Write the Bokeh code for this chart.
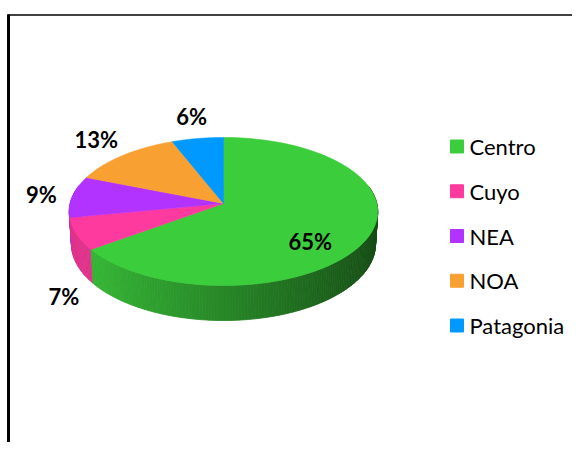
import numpy as np
from bokeh.plotting import figure
from bokeh.models import Range1d
from bokeh.core.properties import value
from bokeh.embed import file_html
from bokeh.resources import INLINE

# ---- data ----
regions = ["Centro", "Cuyo", "NEA", "NOA", "Patagonia"]
shares = [65, 7, 9, 13, 6]
colors = ["#3ccd3c", "#ff3a9e", "#b233ff", "#f9a033", "#0099ff"]
labels = [f"{s}%" for s in shares]

# ---- 3D pie projection (picture pixel coordinates) ----
CX, CY = 223.0, 203.0
ELEV = np.radians(28.5)
SE, CE = np.sin(ELEV), np.cos(ELEV)
DIST = 8.13
FOC = 1246.6
DEPTH = 0.244


def proj(X, Y, Z):
    w = DIST + Z * CE - Y * SE
    v = Y * CE + Z * SE
    return CX + FOC * X / w, CY - FOC * v / w


def shade(hexcol, f):
    r, g, b = (int(hexcol[i:i + 2], 16) for i in (1, 3, 5))
    return "#%02x%02x%02x" % (int(r * f), int(g * f), int(b * f))


total = float(sum(shares))
edges = np.concatenate([[0.0], np.cumsum(shares) / total * 2 * np.pi])

W, H = 572, 442
p = figure(width=W, height=H, output_backend="svg", toolbar_location=None,
           x_range=Range1d(0, W), y_range=Range1d(H, 0),
           x_axis_type=None, y_axis_type=None, min_border=0)
p.outline_line_color = None
p.grid.visible = False
p.background_fill_color = "white"

# frame lines of the source document
p.segment(x0=[8], y0=[14], x1=[8], y1=[H + 2], line_color="black", line_width=3)
p.segment(x0=[7], y0=[14.5], x1=[W + 2], y1=[14.5], line_color="black", line_width=1.5)

# ---- outer wall (depth sorted) ----
walls = []
for i in range(len(shares)):
    a0, a1 = edges[i], edges[i + 1]
    n = max(2, int(np.degrees(a1 - a0)))
    t = np.linspace(a0, a1, n + 1)
    for a, b in zip(t[:-1], t[1:]):
        m = 0.5 * (a + b)
        if np.cos(m) > 0.25:
            continue
        xa, ya = proj(np.sin(a), 0, np.cos(a))
        xb, yb = proj(np.sin(b), 0, np.cos(b))
        xc, yc = proj(np.sin(b), -DEPTH, np.cos(b))
        xd, yd = proj(np.sin(a), -DEPTH, np.cos(a))
        f = float(np.clip(0.66 - 0.29 * np.sin(m), 0.38, 0.88))
        walls.append((np.cos(m), [xa, xb, xc, xd], [ya, yb, yc, yd], shade(colors[i], f)))
walls.sort(key=lambda w: -w[0])
p.patches(xs=[w[1] for w in walls], ys=[w[2] for w in walls],
          fill_color=[w[3] for w in walls], line_color=[w[3] for w in walls], line_width=0.8)

# ---- top face wedges ----
txs, tys = [], []
for i in range(len(shares)):
    t = np.linspace(edges[i], edges[i + 1], 120)
    pts = [proj(np.sin(a), 0, np.cos(a)) for a in t]
    vx, vy = proj(0, 0, 0)
    txs.append([vx] + [q[0] for q in pts])
    tys.append([vy] + [q[1] for q in pts])
p.patches(xs=txs, ys=tys, fill_color=colors, line_color=colors, line_width=0.6)

# ---- data labels ----
FS = 22
lx, ly = [], []
for i, s in enumerate(shares):
    m = 0.5 * (edges[i] + edges[i + 1])
    hw = FS * (0.58 * (len(labels[i]) - 1) + 0.88) / 2
    hh = FS * 0.36
    gap = 15
    ux, uy = np.sin(m), -np.cos(m)
    if s >= 20:
        x, y = proj(0.62 * np.sin(m), -DEPTH / 2, 0.62 * np.cos(m))
    elif np.cos(m) >= 0:
        rx, ry = proj(np.sin(m), 0, np.cos(m))
        x = rx + ux * (gap + hw)
        y = ry + uy * (gap + hh)
    else:
        rx, ry = proj(np.sin(m), -DEPTH, np.cos(m))
        x = rx + ux * hw
        y = ry + hh + 1.4 * gap
    lx.append(x)
    ly.append(y)
p.text(x=lx, y=ly, text=labels, text_font=value("Lato"), text_font_style="bold",
       text_font_size=f"{FS}px", text_align="center", text_baseline="middle",
       text_color="black")

# ---- legend ----
idx = np.arange(len(regions))
leg_y = 146 + idx * 44.75
p.scatter(x=[456.5] * len(regions), y=leg_y, marker="square", size=13,
          fill_color=colors, line_color=colors)
p.text(x=[469] * len(regions), y=leg_y, text=regions, text_font=value("Lato"),
       text_font_size="22px", text_align="left", text_baseline="middle",
       text_color="black")

open("out.html", "w").write(file_html(p, INLINE))
